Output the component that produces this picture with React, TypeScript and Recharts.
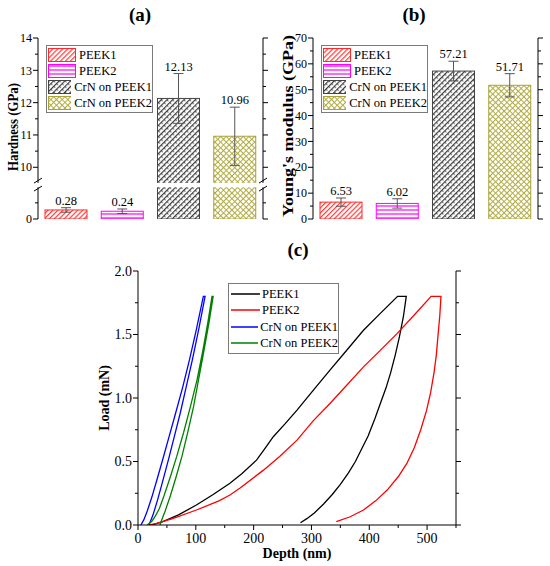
import React from 'react';
import {
  ComposedChart,
  LineChart,
  Bar,
  Line,
  XAxis,
  YAxis,
  ErrorBar,
  LabelList,
  Legend,
} from 'recharts';

const FONT = '"Liberation Serif", "Times New Roman", Times, serif';

// ---------- bar panels (a) and (b) ----------
const categories = ['PEEK1', 'PEEK2', 'CrN on PEEK1', 'CrN on PEEK2'];
const hardness = [0.28, 0.24, 12.13, 10.96];
const hardnessErr = [0.07, 0.07, 0.77, 0.9];
const modulus = [6.53, 6.02, 57.21, 51.71];
const modulusErr = [1.6, 1.8, 3.8, 4.5];

const hardnessMajorTicks = [0, 10, 11, 12, 13, 14];
const hardnessMinorTicks = [0.5, 10.5, 11.5, 12.5, 13.5];
const modulusMajorTicks = [0, 10, 20, 30, 40, 50, 60, 70];
const modulusMinorTicks = [5, 15, 25, 35, 45, 55, 65];

// broken axis of panel (a): values above the break are shifted down
const HARD_BREAK_LOW = 1.05;
const HARD_BREAK_HIGH = 9.45;
const hardToAxis = (v: number) => (v >= HARD_BREAK_HIGH ? v - (HARD_BREAK_HIGH - HARD_BREAK_LOW) : v);
const identity = (v: number) => v;

// ---------- load-depth curves (c) ----------
const curveNames = ['PEEK1', 'PEEK2', 'CrN on PEEK1', 'CrN on PEEK2'];
const curveColors = ['#000000', '#ff0000', '#0000ff', '#008000'];

const peek1Depth = [24, 43, 70, 101, 130, 159, 180, 205, 220, 234, 255, 275, 303, 332, 361, 390, 420, 449, 464, 459, 452, 445, 437, 429, 421, 410, 398, 387, 376, 364, 350, 336, 321, 305, 292, 281];
const peek1Load = [0, 0.026, 0.08, 0.157, 0.24, 0.328, 0.405, 0.511, 0.605, 0.695, 0.8, 0.905, 1.06, 1.219, 1.376, 1.533, 1.67, 1.8, 1.8, 1.64, 1.48, 1.34, 1.2, 1.08, 0.98, 0.84, 0.7, 0.6, 0.5, 0.41, 0.32, 0.24, 0.165, 0.095, 0.05, 0.018];

const peek2Depth = [20, 32, 60, 101, 140, 159, 176, 217, 245, 275, 303, 332, 361, 390, 419, 448, 477, 507, 524, 522, 519, 516, 512, 506, 499, 489, 478, 465, 450, 431, 411, 390, 367, 343];
const peek2Load = [0, 0.012, 0.05, 0.118, 0.19, 0.236, 0.29, 0.432, 0.54, 0.668, 0.82, 0.957, 1.1, 1.245, 1.375, 1.507, 1.65, 1.8, 1.8, 1.65, 1.5, 1.34, 1.2, 1.04, 0.9, 0.75, 0.61, 0.485, 0.38, 0.275, 0.19, 0.118, 0.065, 0.026];

const crn1Depth = [5, 10, 16, 24, 33, 43, 54, 65, 77, 89, 101, 113, 116, 105, 94, 83, 73, 63, 53, 43, 34, 26, 19];
const crn1Load = [0, 0.04, 0.11, 0.22, 0.36, 0.52, 0.7, 0.88, 1.08, 1.3, 1.54, 1.8, 1.8, 1.54, 1.3, 1.08, 0.88, 0.7, 0.52, 0.35, 0.2, 0.08, 0];

const crn2Depth = [16, 24, 30, 37, 45, 56, 67, 79, 90, 102, 112, 121, 128, 130, 123, 114, 105, 96, 86, 76, 66, 56, 47, 41, 38];
const crn2Load = [0, 0.03, 0.07, 0.13, 0.23, 0.38, 0.54, 0.73, 0.92, 1.14, 1.37, 1.6, 1.8, 1.8, 1.6, 1.37, 1.15, 0.93, 0.73, 0.54, 0.38, 0.23, 0.11, 0.04, 0];

const depthMajorTicks = [0, 100, 200, 300, 400, 500];
const depthMinorTicks = [50, 150, 250, 350, 450, 550];
const loadMajorTicks = [0, 0.5, 1, 1.5, 2];
const loadMinorTicks = [0.25, 0.75, 1.25, 1.75];

const zip = (xs: number[], ys: number[]) => xs.map((x, i) => ({ x, y: ys[i] }));
const curveData = [zip(peek1Depth, peek1Load), zip(peek2Depth, peek2Load), zip(crn1Depth, crn1Load), zip(crn2Depth, crn2Load)];

// ---------- styles ----------
const barStyles = [
  { fill: 'url(#hatchRed)', stroke: '#ff2a2a' },
  { fill: 'url(#hatchMagenta)', stroke: '#ff00ff' },
  { fill: 'url(#hatchGray)', stroke: '#444444' },
  { fill: 'url(#hatchOlive)', stroke: '#a9a23a' },
];

const Patterns = () => (
  <svg width={0} height={0} style={{ position: 'absolute' }}>
    <defs>
      <pattern id="hatchRed" patternUnits="userSpaceOnUse" width={3.5} height={3.5} patternTransform="rotate(45)">
        <rect width={3.5} height={3.5} fill="#fff" />
        <line x1={0.6} y1={0} x2={0.6} y2={3.5} stroke="#ff3a3a" strokeWidth={1.2} />
      </pattern>
      <pattern id="hatchMagenta" patternUnits="userSpaceOnUse" width={4} height={4}>
        <rect width={4} height={4} fill="#fff" />
        <line x1={0} y1={2} x2={4} y2={2} stroke="#ff00ff" strokeWidth={1.2} />
      </pattern>
      <pattern id="hatchGray" patternUnits="userSpaceOnUse" width={4} height={4} patternTransform="rotate(45)">
        <rect width={4} height={4} fill="#fff" />
        <line x1={0.6} y1={0} x2={0.6} y2={4} stroke="#3c3c3c" strokeWidth={1.2} />
        <line x1={0.6} y1={0.5} x2={2.6} y2={0.5} stroke="#3c3c3c" strokeWidth={0.8} />
      </pattern>
      <pattern id="hatchOlive" patternUnits="userSpaceOnUse" width={4} height={4} patternTransform="rotate(45)">
        <rect width={4} height={4} fill="#fff" />
        <line x1={0.5} y1={0} x2={0.5} y2={4} stroke="#b2ac42" strokeWidth={1} />
        <line x1={0} y1={0.5} x2={4} y2={0.5} stroke="#b2ac42" strokeWidth={1} />
      </pattern>
    </defs>
  </svg>
);

// ---------- tick factories ----------
type TickOpts = {
  side: 'left' | 'right' | 'bottom' | 'top';
  majors: number[];
  toAxis: (v: number) => number;
  labels: boolean;
  fmt: (v: number) => string;
  fontSize: number;
  breakAt?: number;
  labelGap?: number;
};

const makeTick = (o: TickOpts) => (props: any) => {
  const { x, y, payload } = props;
  const v = payload.value as number;
  if (o.breakAt !== undefined && Math.abs(v - o.breakAt) < 1e-9) {
    return (
      <g>
        <rect x={x - 2} y={y - 2.2} width={4} height={4.4} fill="#fff" />
        <line x1={x - 4} y1={y - 2} x2={x + 4} y2={y - 7} stroke="#000" strokeWidth={1} />
        <line x1={x - 4} y1={y + 6} x2={x + 4} y2={y + 1} stroke="#000" strokeWidth={1} />
      </g>
    );
  }
  const major = o.majors.find((m) => Math.abs(o.toAxis(m) - v) < 1e-9);
  const len = major !== undefined ? 5 : 3;
  const gap = o.labelGap ?? 6;
  let line;
  let label = null;
  if (o.side === 'left' || o.side === 'right') {
    const s = o.side === 'left' ? -1 : 1;
    line = <line x1={x} y1={y} x2={x + s * len} y2={y} stroke="#000" strokeWidth={1} />;
    if (o.labels && major !== undefined) {
      label = (
        <text x={x - gap} y={y} dy={o.fontSize * 0.35} textAnchor="end" fontFamily={FONT} fontSize={o.fontSize} fill="#000">
          {o.fmt(major)}
        </text>
      );
    }
  } else {
    const s = o.side === 'bottom' ? 1 : -1;
    line = <line x1={x} y1={y} x2={x} y2={y + s * len} stroke="#000" strokeWidth={1} />;
    if (o.labels && major !== undefined) {
      label = (
        <text x={x} y={y + gap} textAnchor="middle" fontFamily={FONT} fontSize={o.fontSize} fill="#000">
          {o.fmt(major)}
        </text>
      );
    }
  }
  return (
    <g>
      {line}
      {label}
    </g>
  );
};

// ---------- legends ----------
const BarLegend = () => (
  <div
    style={{
      boxSizing: 'border-box',
      width: 107,
      border: '1px solid #7a7a7a',
      background: '#fff',
      padding: '1px 0 1px 1px',
      fontFamily: FONT,
      fontSize: 12.5,
      color: '#000',
    }}
  >
    {categories.map((c, i) => (
      <div key={c} style={{ display: 'flex', alignItems: 'center', height: 16 }}>
        <svg width={28} height={14} style={{ display: 'block' }}>
          <rect x={0.5} y={0.5} width={27} height={13} fill={barStyles[i].fill} stroke={barStyles[i].stroke} />
        </svg>
        <span style={{ marginLeft: 3, whiteSpace: 'nowrap', lineHeight: '16px' }}>{c}</span>
      </div>
    ))}
  </div>
);

const CurveLegend = () => (
  <div
    style={{
      boxSizing: 'border-box',
      width: 111,
      border: '1px solid #7a7a7a',
      background: '#fff',
      padding: '2px 0 2px 2px',
      fontFamily: FONT,
      fontSize: 12.5,
      color: '#000',
    }}
  >
    {curveNames.map((n, i) => (
      <div key={n} style={{ display: 'flex', alignItems: 'center', height: 16.3 }}>
        <svg width={29} height={4} style={{ display: 'block' }}>
          <line x1={0} y1={2} x2={29} y2={2} stroke={curveColors[i]} strokeWidth={1.5} />
        </svg>
        <span style={{ marginLeft: 2, whiteSpace: 'nowrap', lineHeight: '16px' }}>{n}</span>
      </div>
    ))}
  </div>
);

// ---------- bar panel ----------
type BarPanelProps = {
  left: number;
  values: number[];
  errors: number[];
  majors: number[];
  minors: number[];
  toAxis: (v: number) => number;
  breakAt?: number;
};

function BarPanel({ left, values, errors, majors, minors, toAxis, breakAt }: BarPanelProps) {
  const data = categories.map((name, i) => ({
    name,
    v: toAxis(values[i]),
    err: errors[i],
    top: toAxis(values[i] + errors[i]),
    label: values[i].toFixed(2),
  }));
  const axisMax = toAxis(majors[majors.length - 1]);
  const ticks = [...majors, ...minors].map(toAxis);
  if (breakAt !== undefined) ticks.push(breakAt);
  ticks.sort((a, b) => a - b);

  const shape = (props: any) => {
    const { x, y, width, height, index, payload } = props;
    const st = barStyles[index];
    let gap = null;
    if (breakAt !== undefined && payload.v > breakAt && height > 0) {
      const gy = y + height - (breakAt * height) / payload.v;
      gap = <rect x={x - 1} y={gy - 2.2} width={width + 2} height={4.4} fill="#fff" />;
    }
    return (
      <g>
        <rect x={x} y={y} width={width} height={height} fill={st.fill} stroke={st.stroke} strokeWidth={1} />
        {gap}
      </g>
    );
  };

  const leftTick = makeTick({ side: 'left', majors, toAxis, labels: true, fmt: (v) => String(v), fontSize: 12, breakAt });
  const rightTick = makeTick({ side: 'right', majors, toAxis, labels: false, fmt: (v) => String(v), fontSize: 12, breakAt });

  return (
    <div style={{ position: 'absolute', left, top: 0 }}>
      <ComposedChart width={275} height={240} data={data} margin={{ top: 38, right: 6, bottom: 21, left: 0 }}>
        <XAxis dataKey="name" height={0} tick={false} tickLine={false} axisLine={{ stroke: '#000' }} />
        <XAxis xAxisId="t" orientation="top" dataKey="name" height={0} tick={false} tickLine={false} axisLine={{ stroke: '#000' }} />
        <YAxis
          type="number"
          domain={[0, axisMax]}
          allowDataOverflow
          ticks={ticks}
          interval={0}
          width={38}
          tickSize={0}
          tickMargin={0}
          tickLine={false}
          axisLine={{ stroke: '#000' }}
          tick={leftTick}
        />
        <YAxis
          yAxisId="r"
          orientation="right"
          type="number"
          domain={[0, axisMax]}
          allowDataOverflow
          ticks={ticks}
          interval={0}
          width={6}
          tickSize={0}
          tickMargin={0}
          tickLine={false}
          axisLine={{ stroke: '#000' }}
          tick={rightTick}
        />
        <Bar dataKey="v" barSize={42} isAnimationActive={false} shape={shape} legendType="none">
          <ErrorBar dataKey="err" width={5} stroke="#555" strokeWidth={1} direction="y" />
        </Bar>
        <Line
          xAxisId="t"
          yAxisId="r"
          dataKey="top"
          stroke="none"
          dot={false}
          activeDot={false}
          isAnimationActive={false}
          legendType="none"
        >
          <LabelList dataKey="label" position="top" offset={3} fontFamily={FONT} fontSize={12.5} fill="#000" />
        </Line>
        <Legend
          layout="vertical"
          align="center"
          verticalAlign="middle"
          content={() => <BarLegend />}
          wrapperStyle={{ position: 'absolute', left: 46, top: 45, width: 'auto', height: 'auto' }}
        />
      </ComposedChart>
    </div>
  );
}

// ---------- curve panel ----------
function CurvePanel() {
  const xTicks = [...depthMajorTicks, ...depthMinorTicks].sort((a, b) => a - b);
  const yTicks = [...loadMajorTicks, ...loadMinorTicks].sort((a, b) => a - b);
  const bottomTick = makeTick({ side: 'bottom', majors: depthMajorTicks, toAxis: identity, labels: true, fmt: (v) => String(v), fontSize: 14, labelGap: 18 });
  const topTick = makeTick({ side: 'top', majors: depthMajorTicks, toAxis: identity, labels: false, fmt: (v) => String(v), fontSize: 14 });
  const leftTick = makeTick({ side: 'left', majors: loadMajorTicks, toAxis: identity, labels: true, fmt: (v) => v.toFixed(1), fontSize: 14, labelGap: 6 });
  const rightTick = makeTick({ side: 'right', majors: loadMajorTicks, toAxis: identity, labels: false, fmt: (v) => v.toFixed(1), fontSize: 14 });

  return (
    <div style={{ position: 'absolute', left: 0, top: 250 }}>
      <LineChart width={550} height={316} margin={{ top: 21, right: 88, bottom: 0, left: 100 }}>
        <XAxis
          type="number"
          dataKey="x"
          domain={[0, 550]}
          allowDataOverflow
          ticks={xTicks}
          interval={0}
          height={41}
          tickSize={0}
          tickMargin={0}
          tickLine={false}
          axisLine={{ stroke: '#000' }}
          tick={bottomTick}
        />
        <XAxis
          xAxisId="t"
          orientation="top"
          type="number"
          dataKey="x"
          domain={[0, 550]}
          allowDataOverflow
          ticks={xTicks}
          interval={0}
          height={0}
          tickSize={0}
          tickMargin={0}
          tickLine={false}
          axisLine={{ stroke: '#000' }}
          tick={topTick}
        />
        <YAxis
          type="number"
          domain={[0, 2]}
          allowDataOverflow
          ticks={yTicks}
          interval={0}
          width={38}
          tickSize={0}
          tickMargin={0}
          tickLine={false}
          axisLine={{ stroke: '#000' }}
          tick={leftTick}
        />
        <YAxis
          yAxisId="r"
          orientation="right"
          type="number"
          domain={[0, 2]}
          allowDataOverflow
          ticks={yTicks}
          interval={0}
          width={6}
          tickSize={0}
          tickMargin={0}
          tickLine={false}
          axisLine={{ stroke: '#000' }}
          tick={rightTick}
        />
        {curveData.map((d, i) => (
          <Line
            key={curveNames[i]}
            name={curveNames[i]}
            data={d}
            dataKey="y"
            type="linear"
            xAxisId={i === 3 ? 't' : 0}
            yAxisId={i === 3 ? 'r' : 0}
            stroke={curveColors[i]}
            strokeWidth={1.3}
            dot={false}
            activeDot={false}
            isAnimationActive={false}
          />
        ))}
        <Legend
          layout="vertical"
          align="center"
          verticalAlign="middle"
          content={() => <CurveLegend />}
          wrapperStyle={{ position: 'absolute', left: 228, top: 33, width: 'auto', height: 'auto' }}
        />
      </LineChart>
    </div>
  );
}

// ---------- titles & axis labels ----------
const Labels = () => (
  <svg width={550} height={566} style={{ position: 'absolute', left: 0, top: 0, pointerEvents: 'none' }}>
    <g fontFamily={FONT} fontWeight="bold" fill="#000">
      <text x={140} y={21} fontSize={19} textAnchor="middle">(a)</text>
      <text x={414} y={21} fontSize={19} textAnchor="middle">(b)</text>
      <text x={298} y={256} fontSize={19} textAnchor="middle">(c)</text>
      <text transform="translate(13,127) rotate(-90)" fontSize={14.5} textAnchor="middle" dominantBaseline="central" textLength={88} lengthAdjust="spacingAndGlyphs">
        Hardness (GPa)
      </text>
      <text transform="translate(288,126) rotate(-90)" fontSize={15} textAnchor="middle" dominantBaseline="central" textLength={182} lengthAdjust="spacingAndGlyphs">
        Young's modulus (GPa)
      </text>
      <text transform="translate(104,398) rotate(-90)" fontSize={14} textAnchor="middle" dominantBaseline="central">
        Load (mN)
      </text>
      <text x={297} y={558} fontSize={14} textAnchor="middle">
        Depth (nm)
      </text>
    </g>
  </svg>
);

export default function App() {
  return (
    <div style={{ position: 'absolute', left: 0, top: 0, width: 550, height: 566, background: '#fff', overflow: 'hidden' }}>
      <Patterns />
      <BarPanel
        left={0}
        values={hardness}
        errors={hardnessErr}
        majors={hardnessMajorTicks}
        minors={hardnessMinorTicks}
        toAxis={hardToAxis}
        breakAt={HARD_BREAK_LOW}
      />
      <BarPanel
        left={275}
        values={modulus}
        errors={modulusErr}
        majors={modulusMajorTicks}
        minors={modulusMinorTicks}
        toAxis={identity}
      />
      <CurvePanel />
      <Labels />
    </div>
  );
}
